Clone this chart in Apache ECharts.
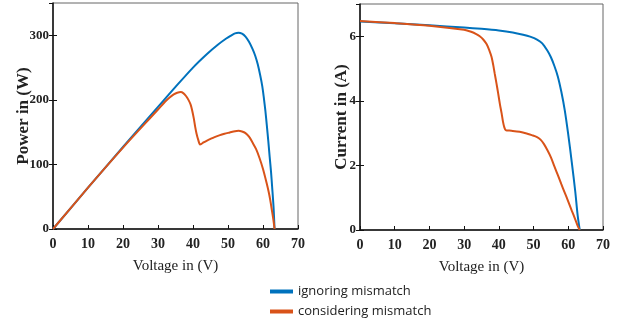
<!DOCTYPE html>
<html>
<head>
<meta charset="utf-8">
<script src="https://cdn.jsdelivr.net/npm/echarts@6/dist/echarts.min.js"></script>
<style>
html,body{margin:0;padding:0;background:#fff;}
#c{width:617px;height:329px;}
</style>
</head>
<body>
<div id="c"></div>
<script>
// ---- data ----
var seriesNames = ['ignoring mismatch', 'considering mismatch'];
var xTicks = [0, 10, 20, 30, 40, 50, 60, 70];

// Power vs voltage, ignoring mismatch
var pvIgnoreV = [0, 10, 20, 30, 35, 40, 44, 47, 49.5, 51, 52, 53, 54, 55, 56, 57, 57.8, 58.5, 59.2, 59.8, 60.2, 60.7, 61.1, 61.5, 61.9, 62.3, 62.6, 63, 63.3];
var pvIgnoreP = [0, 64, 127, 189, 220, 250, 271, 285, 295, 300, 303, 304, 302.5, 298, 290, 279, 268, 255, 238, 221, 205, 182, 160, 137, 112, 88, 66, 35, 0];

// Power vs voltage, considering mismatch
var pvConsV = [0, 10, 20, 30, 32, 33.4, 34.5, 35.5, 36.5, 37.3, 38, 38.7, 39.3, 39.7, 40.2, 40.6, 41, 41.5, 42, 42.3, 43, 44, 45, 46, 47.5, 49, 50.5, 52, 53, 54, 55, 56, 57, 58, 59, 60, 61, 61.6, 62.1, 62.6, 63, 63.3];
var pvConsP = [0, 64, 126, 185, 197, 204, 208.5, 211, 212, 210, 206, 200, 193, 185, 172, 159, 148, 138, 131, 131.5, 134, 137, 139.5, 142, 145, 147.5, 149.5, 151.5, 152, 151, 148.5, 143, 134, 124, 110, 93, 72, 58, 44, 27, 13, 0];

// Current vs voltage, ignoring mismatch
var ivIgnoreV = [0, 10, 20, 30, 35, 40, 44, 47, 49, 51, 52.5, 54, 55, 56, 57, 58, 59, 60, 61, 62, 62.7, 63.3];
var ivIgnoreI = [6.46, 6.4, 6.34, 6.27, 6.23, 6.18, 6.12, 6.05, 5.99, 5.9, 5.78, 5.55, 5.35, 5.08, 4.75, 4.28, 3.7, 2.95, 2.1, 1.2, 0.45, 0];

// Current vs voltage, considering mismatch
var ivConsV = [0, 10, 20, 30, 32, 33.5, 34.5, 35.5, 36.5, 37.3, 37.9, 38.4, 38.8, 39.3, 39.8, 40.3, 40.8, 41.2, 41.6, 42, 42.4, 44, 46, 48, 49.5, 51, 52, 53, 54, 55, 56, 57, 58, 59, 60, 61, 62, 62.7, 63.3];
var ivConsI = [6.47, 6.41, 6.33, 6.2, 6.14, 6.07, 6.0, 5.9, 5.75, 5.55, 5.36, 5.1, 4.85, 4.55, 4.23, 3.9, 3.61, 3.35, 3.17, 3.09, 3.085, 3.07, 3.04, 2.99, 2.94, 2.88, 2.8, 2.66, 2.47, 2.25, 1.97, 1.7, 1.42, 1.15, 0.88, 0.6, 0.33, 0.13, 0];

function pairs(xs, ys){ return xs.map(function(x,i){ return [x, ys[i]]; }); }

var BLUE = '#0072BD', ORANGE = '#D95319';
var serif = '"Liberation Serif", "DejaVu Serif", serif';

var grids = [
  {left: 53, right: 319, top: 3, bottom: 100, show: true, borderColor: '#666', borderWidth: 1},
  {left: 360, right: 14, top: 4, bottom: 99, show: true, borderColor: '#666', borderWidth: 1}
];

function xAx(gi){
  return {
    type: 'value', gridIndex: gi, min: 0, max: 70, interval: 10,
    name: 'Voltage in (V)', nameLocation: 'middle', nameGap: 30, nameMoveOverlap: false,
    nameTextStyle: {fontFamily: serif, fontSize: 15, color: '#222'},
    axisLine: {show: true, onZero: false, lineStyle: {color: '#111', width: 1.5}},
    axisTick: {show: true, inside: true, length: 4, lineStyle: {color: '#111'}},
    axisLabel: {fontFamily: serif, fontWeight: 'bold', fontSize: 14, color: '#222', margin: 8},
    splitLine: {show: false}
  };
}
function yAx(gi, max, interval, name, gap){
  return {
    type: 'value', gridIndex: gi, min: 0, max: max, interval: interval,
    name: name, nameLocation: 'middle', nameGap: gap, nameMoveOverlap: false,
    nameTextStyle: {fontFamily: serif, fontWeight: 'bold', fontSize: 17, color: '#222'},
    axisLine: {show: true, onZero: false, lineStyle: {color: '#111', width: 1.5}},
    axisTick: {show: true, inside: true, length: 4, lineStyle: {color: '#111'}},
    axisLabel: {fontFamily: serif, fontWeight: 'bold', fontSize: 13, color: '#222', margin: 4, showMaxLabel: false},
    splitLine: {show: false}
  };
}
function yMirror(gi, max, interval){
  return {
    type: 'value', gridIndex: gi, min: 0, max: max, interval: interval, position: 'right',
    axisLine: {show: false},
    axisTick: {show: true, inside: true, length: 4, lineStyle: {color: '#111'}},
    axisLabel: {show: false}, splitLine: {show: false}
  };
}

function line(name, color, xi, yi, data){
  return {
    name: name, type: 'line', xAxisIndex: xi, yAxisIndex: yi, data: data,
    showSymbol: false, smooth: 0.3,
    lineStyle: {color: color, width: 2}, itemStyle: {color: color}, z: name === seriesNames[0] ? 2 : 3
  };
}

var chart = echarts.init(document.getElementById('c'), null, {renderer: 'canvas'});
chart.setOption({
  animation: false,
  backgroundColor: '#fff',
  grid: grids,
  xAxis: [xAx(0), xAx(1)],
  yAxis: [yAx(0, 350, 100, 'Power in (W)', 21), yAx(1, 7, 2, 'Current in (A)', 10), yMirror(0, 350, 100), yMirror(1, 7, 2)],
  legend: {
    orient: 'vertical', left: 265, top: 280, itemGap: 7,
    itemWidth: 23, itemHeight: 4, icon: 'rect',
    textStyle: {fontFamily: '"Open Sans", "Noto Sans", sans-serif', fontSize: 13, color: '#222'},
    data: seriesNames
  },
  series: [
    line(seriesNames[0], BLUE, 0, 0, pairs(pvIgnoreV, pvIgnoreP)),
    line(seriesNames[1], ORANGE, 0, 0, pairs(pvConsV, pvConsP)),
    line(seriesNames[0], BLUE, 1, 1, pairs(ivIgnoreV, ivIgnoreI)),
    line(seriesNames[1], ORANGE, 1, 1, pairs(ivConsV, ivConsI))
  ]
});
</script>
</body>
</html>
